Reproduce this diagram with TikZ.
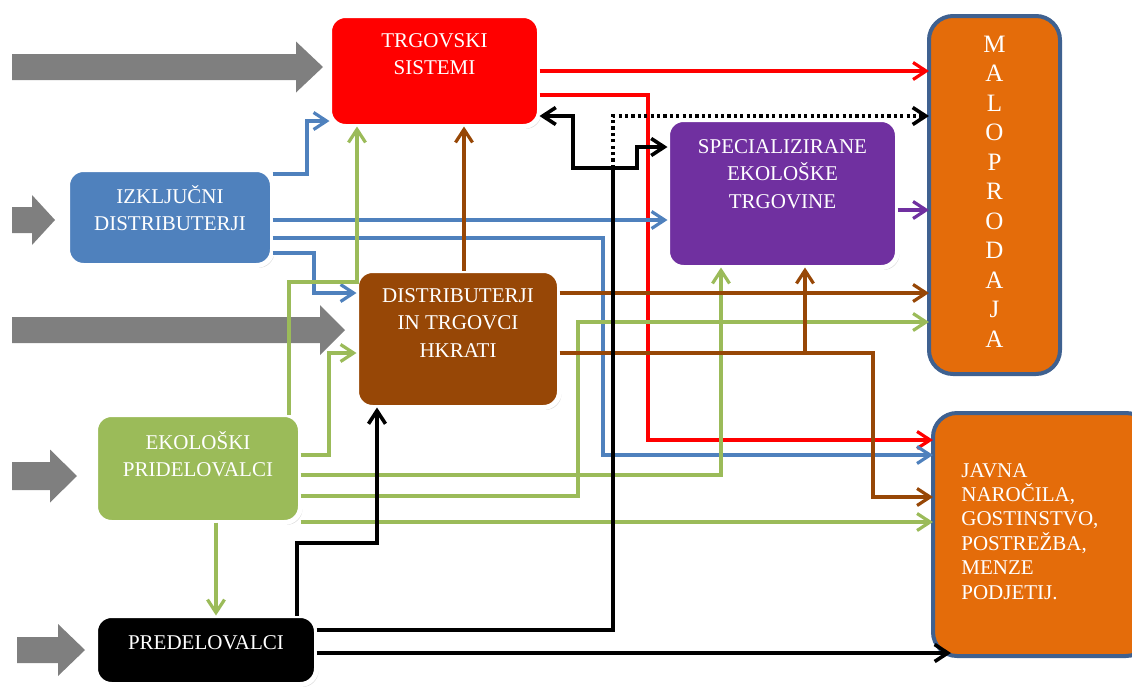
\documentclass[tikz,border=0pt]{standalone}
\usepackage{fontspec}
\setmainfont{Liberation Serif}
\usetikzlibrary{calc,arrows.meta,shadows}
\tikzset {>={Straight Barb[length=6.5pt,width=8.5pt]}}
\definecolor{tsred}{HTML}{FF0000}
\definecolor{idblue}{HTML}{4F81BD}
\definecolor{dtbrown}{HTML}{974706}
\definecolor{stpurple}{HTML}{7030A0}
\definecolor{epgreen}{HTML}{9BBB59}
\definecolor{sinkorange}{HTML}{E46C0A}
\definecolor{sinkborder}{HTML}{3F6190}
\definecolor{bigarrow}{HTML}{7F7F7F}

\begin{document}
\begin{tikzpicture}[x=0.5pt,y=-0.5pt,
  card/.style={draw=white,line width=2.5pt,rounded corners=8pt,outer sep=0pt,
    drop shadow={opacity=.3,shadow xshift=1pt,shadow yshift=-1.2pt}},
  sink/.style={draw=sinkborder,line width=2pt,fill=sinkorange,rounded corners=12pt,outer sep=0pt},
  txt/.style={text=white,font=\fontsize{10.5}{13.75}\selectfont,align=center,inner sep=0pt,
    anchor=north,execute at begin node=\strut},
  rl/.style={line width=1.6pt,tsred,->},
  bl/.style={line width=1.6pt,idblue,->},
  gl/.style={line width=1.6pt,epgreen,->},
  nl/.style={line width=1.6pt,dtbrown,->},
  pl/.style={line width=1.6pt,stpurple,->},
  kl/.style={line width=1.8pt,black,->}]
\useasboundingbox (0,0) rectangle (1132,687);
\clip (0,0) rectangle (1132,687);

% grey input arrows
\foreach \xa/\xb/\xc/\yc/\hs/\hh in {12/296/323/67/13/25.5, 12/32/55/220/13/25,
    12/320/345/330/13/25, 12/50/77/476/14/26.5, 17/58/85/650/13/26}
  \fill[bigarrow] (\xa,{\yc-\hs}) -- (\xb,{\yc-\hs}) -- (\xb,{\yc-\hh}) -- (\xc,\yc)
    -- (\xb,{\yc+\hh}) -- (\xb,{\yc+\hs}) -- (\xa,{\yc+\hs}) -- cycle;

% boxes
\node[card,fill=tsred,minimum width=105pt,minimum height=55.5pt] (TS) at (434.5,71) {};
\node[txt] (TSt) at ([yshift=-8.6pt]TS.north) {TRGOVSKI\\SISTEMI};
\node[card,fill=idblue,minimum width=102.5pt,minimum height=48pt] (ID) at (170,217.5) {};
\node[txt] (IDt) at ([yshift=-7.6pt]ID.north) {IZKLJUČNI\\DISTRIBUTERJI};
\node[card,fill=dtbrown,minimum width=101.5pt,minimum height=68.5pt] (DT) at (458,339) {};
\node[txt] (DTt) at ([yshift=-8.6pt]DT.north) {DISTRIBUTERJI\\IN TRGOVCI\\HKRATI};
\node[card,fill=stpurple,minimum width=115pt,minimum height=74pt] (ST) at (782.5,193.5) {};
\node[txt] (STt) at ([yshift=-9.6pt]ST.north) {SPECIALIZIRANE\\EKOLOŠKE\\TRGOVINE};
\node[card,fill=epgreen,minimum width=102.5pt,minimum height=54pt] (EP) at (198,468.5) {};
\node[txt] (EPt) at ([yshift=-8.1pt]EP.north) {EKOLOŠKI\\PRIDELOVALCI};
\node[card,fill=black,minimum width=110.5pt,minimum height=34.5pt] (PR) at (206,650) {};
\node[txt] (PRt) at ([yshift=-7.1pt]PR.north) {PREDELOVALCI};

\node[sink,minimum width=65.5pt,minimum height=179pt] (MP) at (994.5,195) {};
\node[txt,font=\fontsize{12.5}{14.75}\selectfont] (MPt) at ([yshift=-9.8pt]MP.north)
  {M\\A\\L\\O\\P\\R\\O\\D\\A\\J\\A};
\node[sink,minimum width=108.5pt,minimum height=121.5pt] (JN) at (1041.5,534.5) {};
\node[txt,font=\fontsize{10.5}{12.2}\selectfont,align=left,anchor=north west] (JNt)
  at ([xshift=14pt,yshift=-24.9pt]JN.north west)
  {JAVNA\\NAROČILA,\\GOSTINSTVO,\\POSTREŽBA,\\MENZE\\PODJETIJ.};

% red
\draw[rl] (TS.east) -- (TS.east -| MP.west);
\draw[rl] (TS.east |- 0,95) -| (648,440) -- (JN.west |- 0,440);

% blue
\draw[bl] (ID.east |- 0,174) -| (307,121) -- (TS.west |- 0,121);
\draw[bl] (ID.east |- 0,220) -- (ST.west |- 0,220);
\draw[bl] (ID.east |- 0,238) -| (603,455) -- (JN.west |- 0,455);
\draw[bl] (ID.east |- 0,253) -| (314,293) -- (DT.west |- 0,293);

% green
\draw[gl] (EP.north -| 289,0) |- (357,282) -- (TS.south -| 357,0);
\draw[gl] (EP.east |- 0,455) -| (329,353) -- (DT.west |- 0,353);
\draw[gl] (EP.east |- 0,475) -| (ST.south -| 721,0);
\draw[gl] (EP.east |- 0,496) -| (578,322) -- (MP.west |- 0,322);
\draw[gl] (EP.east |- 0,522) -- (JN.west |- 0,522);
\draw[gl] (EP.south -| 216,0) -- (PR.north -| 216,0);

% brown
\draw[nl] (DT.north -| 464,0) -- (TS.south -| 464,0);
\draw[nl] (DT.east |- 0,293) -- (MP.west |- 0,293);
\draw[nl] (DT.east |- 0,353) -| (873,497) -- (JN.west |- 0,497);
\coordinate (B) at (805,353);
\draw[nl] (B) -- (ST.south -| B);

% purple
\draw[pl] (ST.east |- 0,210) -- (MP.west |- 0,210);

% black
\coordinate (J) at (613,168);
\coordinate (JB) at ([xshift=9pt]JN.west);
\draw[kl,<->] (TS.east |- 0,116) -| (573,168) -| (637,147) -- (ST.west |- 0,147);
\draw[kl,-] (PR.east |- 0,630) -| (J);
\draw[kl,dash pattern=on 1.6pt off 1.6pt] (J) |- (MP.west |- 0,116);
\draw[kl] (PR.north -| 297,0) |- (377,543) -- (DT.south -| 377,0);
\draw[kl] (PR.east |- 0,653) -- (JB |- 0,653);
\end{tikzpicture}
\end{document}
